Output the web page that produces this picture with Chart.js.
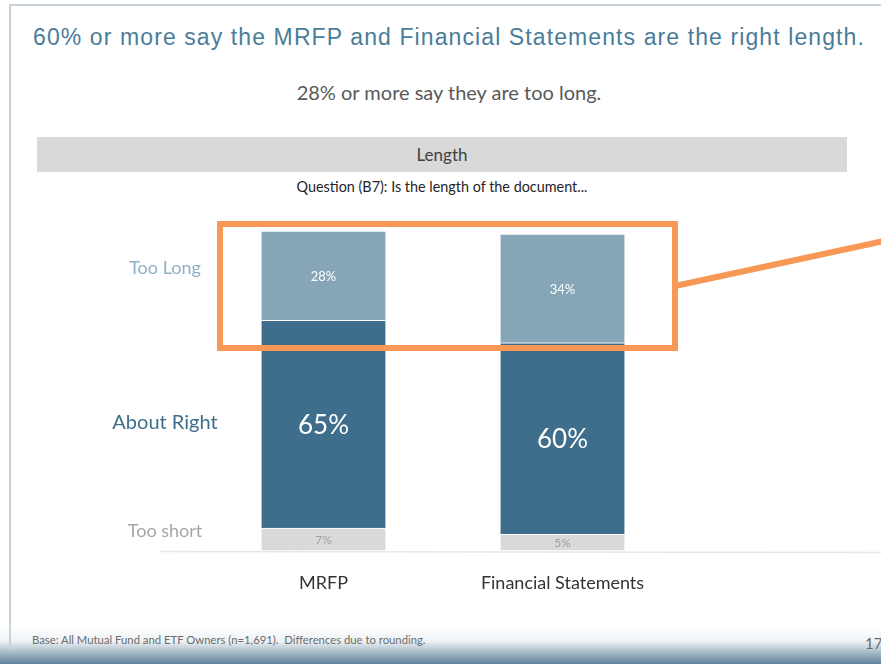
<!DOCTYPE html>
<html>
<head>
<meta charset="utf-8">
<script src="https://cdn.jsdelivr.net/npm/chart.js@4/dist/chart.umd.min.js"></script>
<style>
  html, body { margin: 0; padding: 0; background: #fff; }
  body { width: 881px; height: 664px; position: relative; overflow: hidden; font-family: Lato, "Open Sans", sans-serif; }
  .frame { position: absolute; left: 9px; top: 4px; right: -2px; bottom: 14px; border-left: 2px solid #c9d3dc; border-top: 2px solid #c9d3dc; }
  .footer-band { position: absolute; left: 0; right: 0; top: 626px; bottom: 0; background: linear-gradient(#ffffff, #eef2f5 40%, #5d8199); }
  h1 { position: absolute; left: 0; width: 898px; top: 24px; margin: 0; text-align: center; font: 23px "Liberation Sans", Arial, sans-serif; color: #4a7d99; letter-spacing: 1.1px; white-space: nowrap; }
  .sub { position: absolute; left: 0; width: 898px; top: 80px; text-align: center; font-size: 20px; color: #595959; }
  .band { position: absolute; left: 37px; width: 810px; top: 137px; height: 35px; background: #d9d9d9; text-align: center; line-height: 35px; font-size: 17px; color: #404040; }
  .question { position: absolute; left: 37px; width: 810px; top: 178px; text-align: center; font-size: 14.4px; color: #262626; }
  .note { position: absolute; left: 32px; top: 633px; font-size: 11.3px; color: #6b6b6b; }
  .page { position: absolute; left: 865px; top: 634px; font-size: 15px; color: #6b6b6b; }
  #chart { position: absolute; left: 0; top: 0; }
</style>
</head>
<body>
<div class="footer-band"></div>
<div class="frame"></div>
<h1>60% or more say the MRFP and Financial Statements are the right length.</h1>
<div class="sub">28% or more say they are too long.</div>
<div class="band">Length</div>
<div class="question">Question (B7): Is the length of the document...</div>
<div class="note">Base: All Mutual Fund and ETF Owners (n=1,691).&nbsp; Differences due to rounding.</div>
<div class="page">17</div>
<canvas id="chart" width="881" height="664"></canvas>
<script>
// Chart data
const documents = ['MRFP', 'Financial Statements'];
const responseLabels = ['Too short', 'About Right', 'Too Long'];
const tooShort = [7, 5];
const aboutRight = [65, 60];
const tooLong = [28, 34];

const segmentColors = ['#d9d9d9', '#3e6e8c', '#86a5b7'];
const labelColors = ['#a0a0a0', '#ffffff', '#ffffff'];
const labelFonts = ['12px Lato', '26px Lato', '13px Lato'];
const sideColors = ['#a6a6a6', '#3f6e8c', '#8fb0c4'];
const sideFonts = ['18px Lato', '20px Lato', '18px Lato'];

// Percent labels, side labels, baseline and the orange callout
const overlayPlugin = {
  id: 'overlay',
  afterDatasetsDraw(chart) {
    const ctx = chart.ctx;
    ctx.save();
    ctx.textAlign = 'center';
    ctx.textBaseline = 'middle';
    chart.data.datasets.forEach((ds, i) => {
      const meta = chart.getDatasetMeta(i);
      meta.data.forEach((bar, j) => {
        const mid = (bar.y + bar.base) / 2;
        ctx.font = labelFonts[i];
        ctx.fillStyle = labelColors[i];
        ctx.fillText(ds.data[j] + '%', bar.x, mid + 1);
      });
      // row label beside the first bar
      const first = meta.data[0];
      const offset = i === 1 ? -2 : -8;
      ctx.font = sideFonts[i];
      ctx.fillStyle = sideColors[i];
      ctx.fillText(ds.label, 165, (first.y + first.base) / 2 + offset);
    });

    // faint baseline
    const y0 = chart.scales.y.getPixelForValue(0) + 1;
    ctx.strokeStyle = '#e4e8eb';
    ctx.lineWidth = 1.5;
    ctx.beginPath();
    ctx.moveTo(160, y0);
    ctx.lineTo(881, y0 + 1);
    ctx.stroke();

    // callout
    ctx.strokeStyle = '#f79856';
    ctx.lineWidth = 6;
    ctx.strokeRect(220, 224, 455, 124);
    ctx.beginPath();
    ctx.moveTo(675, 286);
    ctx.lineTo(884, 241);
    ctx.stroke();
    ctx.restore();
  }
};

new Chart(document.getElementById('chart'), {
  type: 'bar',
  data: {
    labels: documents,
    datasets: responseLabels.map((label, i) => ({
      label: label,
      data: [tooShort, aboutRight, tooLong][i],
      backgroundColor: segmentColors[i],
      borderColor: '#ffffff',
      borderWidth: { top: 1, bottom: 0, left: 0, right: 0 },
      borderSkipped: false,
      barThickness: 124
    }))
  },
  options: {
    responsive: false,
    animation: false,
    layout: { padding: { left: 204, right: 199, top: 231, bottom: 48 } },
    plugins: { legend: { display: false }, tooltip: { enabled: false } },
    scales: {
      x: {
        stacked: true,
        grid: { display: false, drawTicks: false },
        border: { display: false },
        ticks: { color: '#333333', font: { family: 'Lato', size: 18 }, padding: 22 }
      },
      y: {
        stacked: true,
        display: false,
        min: 0,
        max: 100
      }
    }
  },
  plugins: [overlayPlugin]
});
</script>
</body>
</html>
